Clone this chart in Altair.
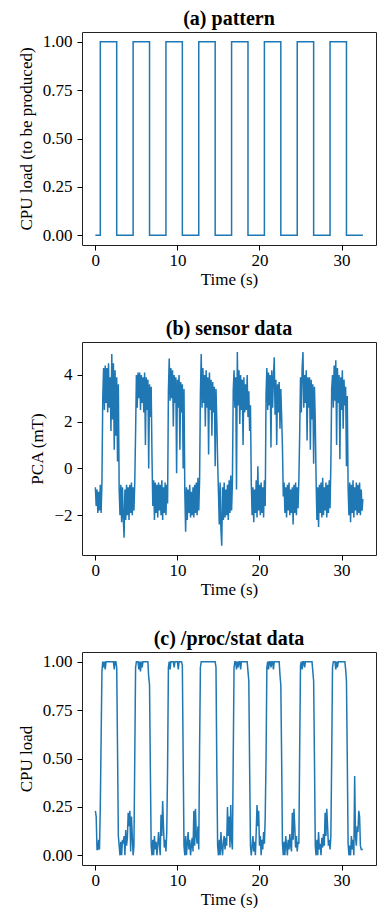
import altair as alt
import pandas as pd

# ---------------- data ----------------
# (a) square-wave pattern: step corner points
pattern_t = [0, 0.6, 0.6, 2.6, 2.6, 4.6, 4.6, 6.6, 6.6, 8.6, 8.6, 10.6, 10.6,
             12.6, 12.6, 14.6, 14.6, 16.6, 16.6, 18.6, 18.6, 20.6, 20.6, 22.6,
             22.6, 24.6, 24.6, 26.6, 26.6, 28.6, 28.6, 30.6, 30.6, 32.6]
pattern_v = [0, 0, 1, 1, 0, 0, 1, 1, 0, 0, 1, 1, 0, 0, 1, 1, 0, 0, 1, 1, 0, 0,
             1, 1, 0, 0, 1, 1, 0, 0, 1, 1, 0, 0]

# sample spacing of the recorded series (s)
DT = 0.1

# (b) sensor data, PCA (mT), one value per 0.1 s
sensor_v = [
    -0.8, -1.6, -0.9, -1.9, -1.0, -1.8, -0.7, -1.9, -0.6, 3.0,
    4.3, 2.5, 4.4, 2.8, 4.3, 2.4, 4.5, 2.6, 3.9, 1.6,
    4.9, 2.1, 4.5, 0.8, 4.2, 1.4, 3.9, 0.3, 3.6, -0.9,
    -2.0, -0.7, -2.3, -0.8, -2.1, -2.96, -0.9, -2.2, -0.7, -2.0,
    -0.8, -2.2, -0.7, -1.9, -0.6, -2.0, -0.8, -1.8, -0.6, 1.5,
    4.0, 2.6, 4.1, 3.0, 4.1, 2.5, 4.0, 2.8, 3.9, 2.4,
    4.1, 1.0, 3.9, 2.5, 3.8, 0.0, 3.6, 2.2, 3.5, 0.5,
    -1.6, -0.5, -2.2, -0.6, -1.9, -0.7, -2.1, -0.6, -1.8, -0.7,
    -2.0, -0.5, -2.2, -0.8, -1.9, -0.6, -2.0, -0.7, -1.5, 3.3,
    4.7, 2.9, 4.3, 3.0, 4.2, 1.8, 4.0, 2.8, 3.9, -0.2,
    3.8, 2.6, 4.0, 0.8, 3.7, 2.4, 3.6, 0.0, 3.4, -1.0,
    -2.7, -0.8, -2.2, -0.9, -1.9, -0.7, -2.1, -1.0, -2.0, -0.8,
    -2.1, -0.7, -1.9, -0.6, -2.0, -0.4, -1.8, -0.5, 3.2, 4.9,
    2.6, 4.3, 2.8, 4.0, 1.8, 4.2, 2.6, 3.9, 0.6, 4.1,
    2.5, 3.8, 1.4, 3.7, 2.4, 3.5, 0.1, 3.4, 2.0, 0.3,
    -1.0, -2.4, -0.6, -2.6, -3.3, -0.8, -2.2, -0.6, -2.1, -0.9,
    -2.0, -0.7, -2.2, -0.5, -1.9, -0.3, -1.8, -0.6, 3.3, 4.2,
    2.6, 3.9, -0.9, 4.98, 2.7, 4.2, 1.9, 4.0, 2.5, 3.8,
    1.0, 3.9, 2.4, 3.6, 2.5, 4.0, 2.2, 3.3, 1.6, 2.7,
    -0.6, -2.0, -0.8, -2.3, -0.9, -1.9, -0.5, -2.1, 0.1, -1.8,
    -0.7, -2.0, -0.6, -1.9, -0.8, -2.1, -0.5, -1.6, 3.2, 4.3,
    2.5, 4.1, 2.7, 4.0, 0.9, 4.2, 2.6, 3.9, 4.76, 2.3,
    3.8, 1.0, 3.6, 2.4, 3.7, 1.7, 3.4, 2.2, 0.9, -1.2,
    -0.6, -1.9, -0.8, -2.1, -0.7, -1.8, -0.6, -2.0, -0.9, -1.9,
    -0.8, -2.4, -0.7, -1.9, -0.6, -2.0, -0.8, -1.7, -0.5, 1.5,
    3.9, 2.4, 4.3, 4.98, 2.6, 4.0, 2.8, 4.2, 1.2, 3.9,
    2.6, 3.9, 0.8, 3.8, 2.1, 3.6, 0.2, 3.5, 2.0, -0.5,
    -2.2, -0.8, -2.5, -0.7, -1.9, -0.6, -2.1, -0.4, -2.0, -0.8,
    -1.8, -0.6, -2.1, -0.7, -1.9, -0.5, -1.7, 0.2, 3.4, 4.0,
    2.6, 4.4, 2.9, 4.63, 1.0, 4.3, 2.8, 4.0, 0.4, 3.9,
    2.5, 4.2, 1.7, 3.8, 2.7, 3.5, 0.1, 3.1, -0.8, -2.0,
    -0.6, -2.3, -0.7, -1.9, -0.5, -2.1, -0.8, -1.8, -0.6, -2.0,
    -0.7, -1.9, -0.6, -2.0, -0.9, -1.8, -1.3,
]

# (c) /proc/stat CPU load, one value per 0.1 s
cpu_v = [
    0.23, 0.20, 0.03, 0.03, 0.08, 0.03, 0.25, 0.60, 0.95, 1.0,
    0.97, 1.0, 0.96, 1.0, 1.0, 1.0, 1.0, 1.0, 1.0, 1.0,
    1.0, 1.0, 1.0, 0.96, 1.0, 1.0, 0.97, 0.55, 0.10, 0.05,
    0.0, 0.07, 0.0, 0.08, 0.06, 0.10, 0.0, 0.13, 0.05, 0.09,
    0.22, 0.15, 0.23, 0.02, 0.20, 0.10, 0.0, 0.05, 0.50, 0.97,
    1.0, 1.0, 1.0, 0.96, 1.0, 0.95, 1.0, 0.97, 1.0, 1.0,
    1.0, 1.0, 1.0, 1.0, 1.0, 0.92, 0.88, 0.45, 0.05, 0.0,
    0.08, 0.0, 0.10, 0.03, 0.07, 0.0, 0.05, 0.12, 0.06, 0.0,
    0.21, 0.10, 0.28, 0.15, 0.04, 0.08, 0.02, 0.12, 0.45, 0.97,
    1.0, 0.96, 1.0, 1.0, 1.0, 1.0, 0.97, 1.0, 1.0, 1.0,
    1.0, 0.96, 1.0, 1.0, 1.0, 1.0, 0.98, 0.50, 0.05, 0.0,
    0.10, 0.0, 0.06, 0.12, 0.03, 0.08, 0.0, 0.05, 0.09, 0.02,
    0.23, 0.05, 0.24, 0.10, 0.06, 0.15, 0.03, 0.55, 0.97, 1.0,
    1.0, 1.0, 1.0, 1.0, 1.0, 1.0, 1.0, 1.0, 1.0, 1.0,
    1.0, 1.0, 1.0, 1.0, 1.0, 1.0, 1.0, 0.97, 0.45, 0.05,
    0.0, 0.08, 0.0, 0.12, 0.04, 0.0, 0.07, 0.10, 0.03, 0.09,
    0.05, 0.25, 0.10, 0.20, 0.04, 0.26, 0.08, 0.03, 0.50, 0.97,
    1.0, 1.0, 0.96, 1.0, 0.97, 1.0, 1.0, 0.96, 1.0, 1.0,
    1.0, 1.0, 1.0, 1.0, 1.0, 1.0, 0.95, 0.90, 0.45, 0.05,
    0.0, 0.05, 0.10, 0.02, 0.07, 0.0, 0.12, 0.26, 0.15, 0.23,
    0.05, 0.10, 0.0, 0.08, 0.03, 0.12, 0.06, 0.20, 0.50, 0.97,
    1.0, 0.96, 1.0, 1.0, 0.97, 1.0, 1.0, 0.96, 1.0, 1.0,
    1.0, 1.0, 1.0, 1.0, 1.0, 0.93, 0.88, 0.50, 0.06, 0.0,
    0.07, 0.0, 0.10, 0.05, 0.0, 0.08, 0.03, 0.11, 0.05, 0.02,
    0.22, 0.08, 0.24, 0.15, 0.04, 0.10, 0.02, 0.07, 0.06, 0.55,
    0.98, 1.0, 0.96, 1.0, 1.0, 0.97, 1.0, 1.0, 1.0, 1.0,
    1.0, 1.0, 1.0, 1.0, 1.0, 0.95, 0.90, 0.50, 0.05, 0.0,
    0.08, 0.0, 0.12, 0.03, 0.06, 0.0, 0.09, 0.04, 0.11, 0.05,
    0.22, 0.10, 0.24, 0.15, 0.05, 0.08, 0.03, 0.10, 0.50, 0.97,
    1.0, 1.0, 1.0, 0.96, 1.0, 0.97, 1.0, 1.0, 1.0, 1.0,
    1.0, 1.0, 1.0, 1.0, 1.0, 0.96, 0.90, 0.50, 0.06, 0.0,
    0.05, 0.0, 0.10, 0.03, 0.08, 0.0, 0.41, 0.10, 0.05, 0.15,
    0.12, 0.23, 0.20, 0.05, 0.03, 0.03, 0.03,
]

x_ticks = [0, 10, 20, 30]
load_ticks = [0, 0.25, 0.5, 0.75, 1.0]
pca_ticks = [-2, 0, 2, 4]

# ---------------- tables ----------------
df_a = pd.DataFrame({"t": pattern_t, "v": pattern_v, "i": range(len(pattern_t))})
df_b = pd.DataFrame({"t": [round(k * DT, 2) for k in range(len(sensor_v))],
                     "v": sensor_v, "i": range(len(sensor_v))})
df_c = pd.DataFrame({"t": [round(k * DT, 2) for k in range(len(cpu_v))],
                     "v": cpu_v, "i": range(len(cpu_v))})

FONT = "Liberation Serif"
XDOM = [-1.63, 34.2]
W, H = 294, 213


def panel(df, title, ytitle, ydom, yvals, yfmt):
    return alt.Chart(df).mark_line(color="#1f77b4", strokeWidth=1.5, clip=True).encode(
        x=alt.X("t:Q", scale=alt.Scale(domain=XDOM, nice=False, zero=False),
                axis=alt.Axis(values=x_ticks, format="d", title="Time (s)")),
        y=alt.Y("v:Q", scale=alt.Scale(domain=ydom, nice=False, zero=False),
                axis=alt.Axis(values=yvals, format=yfmt, title=ytitle)),
        order=alt.Order("i:Q"),
    ).properties(
        width=W, height=H,
        title=alt.TitleParams(title, font=FONT, fontSize=20, fontWeight="bold",
                              color="black", anchor="middle", offset=3),
    )


a = panel(df_a, "(a) pattern", "CPU load (to be produced)", [-0.05, 1.05], load_ticks, ".2f")
b = panel(df_b, "(b) sensor data", "PCA (mT)", [-3.70, 5.41], pca_ticks, "d")
c = panel(df_c, "(c) /proc/stat data", "CPU load", [-0.05, 1.05], load_ticks, ".2f")

chart = alt.vconcat(a, b, c, spacing=30).properties(
    padding={"left": 8, "top": 0, "right": 0, "bottom": 0}, background="white"
).configure_axis(
    labelFont=FONT, titleFont=FONT, labelFontSize=17, titleFontSize=17,
    labelColor="black", titleColor="black", titleFontWeight="normal",
    tickColor="black", tickSize=5, tickWidth=1,
    domain=False, grid=False,
).configure_axisX(
    labelPadding=2, titlePadding=3,
).configure_axisY(
    labelPadding=5, titlePadding=7,
).configure_view(stroke="#222222", strokeWidth=1)

chart.save("out.html", embed_options={"renderer": "svg", "actions": False})
